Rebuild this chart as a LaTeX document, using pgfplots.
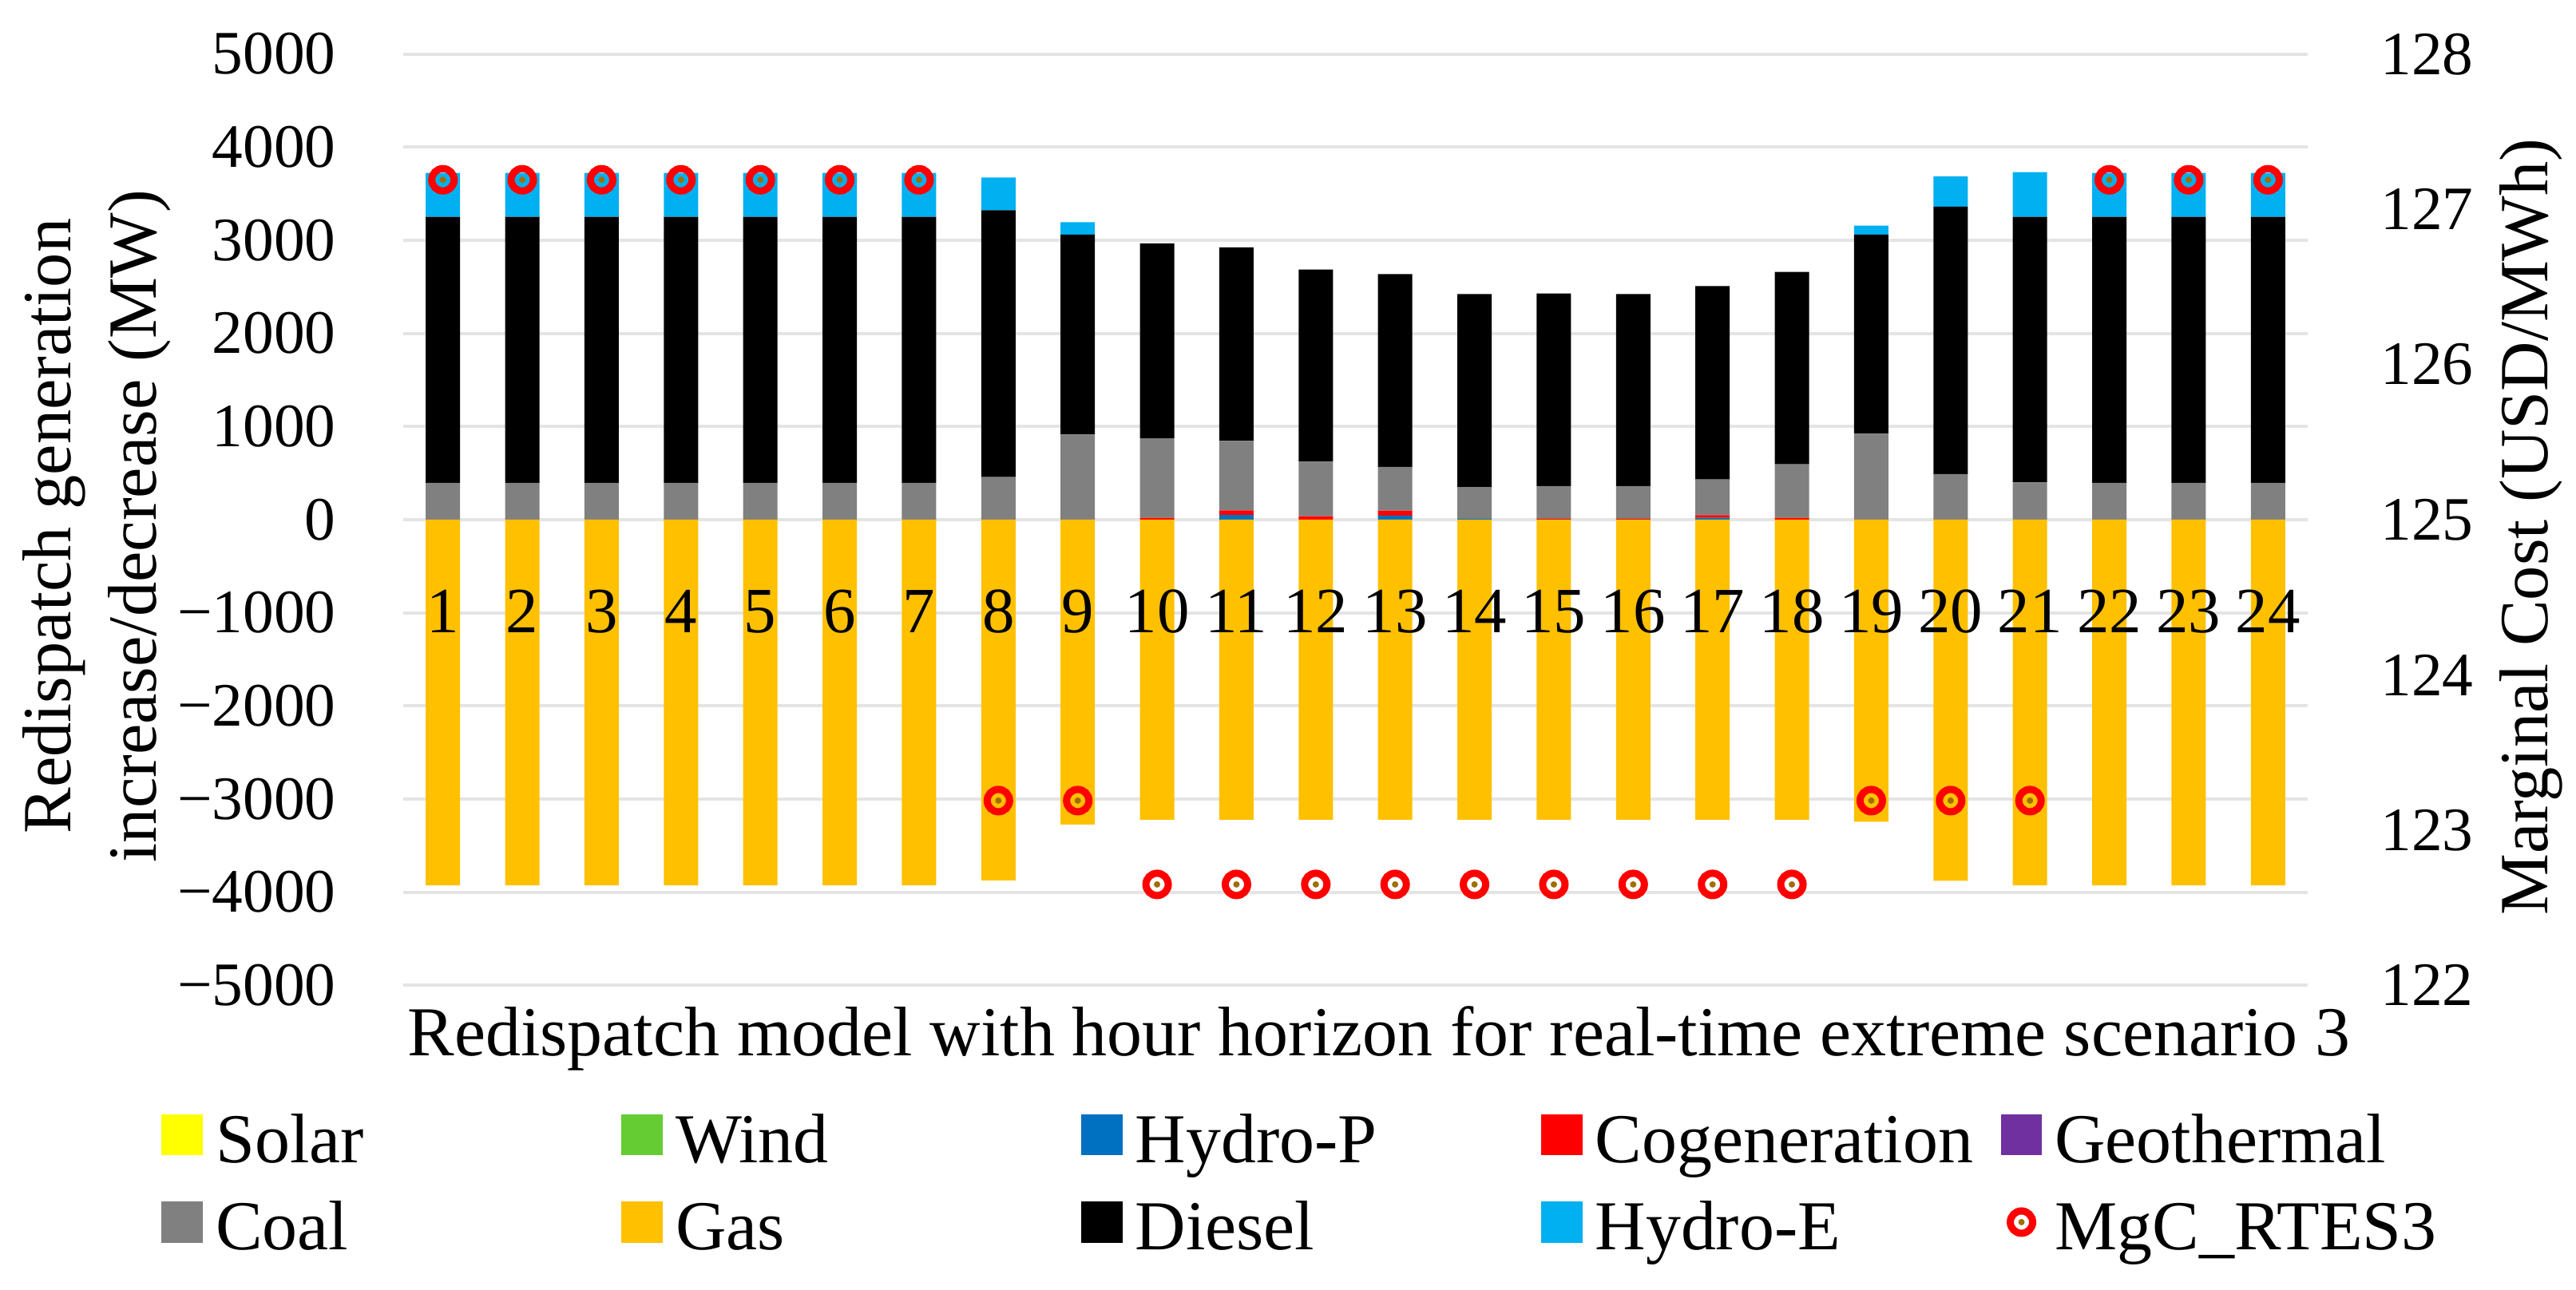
\documentclass[border=0pt]{standalone}
\usepackage{fontspec}
\setmainfont{Liberation Serif}
\usepackage{pgfplots}
\usepackage{pgfplotstable}
\pgfplotsset{compat=1.18}

\definecolor{solarc}{RGB}{255,255,0}
\definecolor{windc}{RGB}{102,204,51}
\definecolor{hydropc}{RGB}{0,112,192}
\definecolor{cogenc}{RGB}{255,0,0}
\definecolor{geoc}{RGB}{112,48,160}
\definecolor{coalc}{RGB}{128,128,128}
\definecolor{gasc}{RGB}{255,192,0}
\definecolor{dieselc}{RGB}{0,0,0}
\definecolor{hydroec}{RGB}{0,176,240}
\definecolor{gridc}{RGB}{228,228,228}
\definecolor{dotc}{RGB}{160,110,0}

\pgfdeclareplotmark{ringdot}{%
  \pgfsetlinewidth{0.045cm}%
  \pgfsetstrokecolor{red}%
  \pgfpathcircle{\pgfpointorigin}{0.07cm}%
  \pgfusepathqstroke
  \pgfsetfillcolor{dotc}%
  \pgfpathcircle{\pgfpointorigin}{0.02cm}%
  \pgfusepathqfill
}

\pgfplotstableread{
h gas hp cg coal diesel he mgc
1 -3926 0 0 395 2856 472 127.19
2 -3926 0 0 395 2856 472 127.19
3 -3926 0 0 395 2856 472 127.19
4 -3926 0 0 395 2856 472 127.19
5 -3926 0 0 395 2856 472 127.19
6 -3926 0 0 395 2856 472 127.19
7 -3926 0 0 395 2856 472 127.19
8 -3874 0 0 457 2866 351 123.19
9 -3274 0 0 914 2146 134 123.19
10 -3223 0 20 852 2094 0 122.65
11 -3223 50 50 746 2077 0 122.65
12 -3223 0 37 586 2063 0 122.65
13 -3223 43 54 469 2071 0 122.65
14 -3223 10 0 341 2072 0 122.65
15 -3223 0 10 350 2069 0 122.65
16 -3223 0 10 350 2063 0 122.65
17 -3223 20 29 382 2077 0 122.65
18 -3223 0 20 574 2066 0 122.65
19 -3243 0 0 923 2137 97 123.19
20 -3877 0 0 489 2871 326 123.19
21 -3926 0 0 400 2851 480 123.19
22 -3926 0 0 395 2856 472 127.19
23 -3926 0 0 395 2856 472 127.19
24 -3926 0 0 395 2856 472 127.19
}\data

\newcommand{\legsq}[1]{\fill[#1] (0cm,-0.1cm) rectangle (0.245cm,0.145cm);}

\begin{document}
\begin{tikzpicture}
\path[use as bounding box] (0,0) rectangle (16.13cm,8.075cm);

\begin{axis}[
  at={(2.525cm,1.9035cm)}, anchor=south west,
  width=11.925cm, height=5.833cm, scale only axis,
  xmin=0.5, xmax=24.5, ymin=-5000, ymax=5000,
  enlarge x limits=false,
  ybar stacked, bar width=0.215cm,
  axis x line*=middle, axis y line*=left,
  y axis line style={draw=none},
  x axis line style={draw=gridc, line width=0.6pt},
  xtick=\empty,
  minor xtick={0.5,1.5,...,24.5},
  tick align=center,
  major tick length=0pt,
  minor tick length=0.15cm,
  every minor tick/.append style={draw=gridc, line width=0.6pt, yshift=-0.075cm},
  ytick={-5000,-4000,...,5000},
  yticklabels={−5000,−4000,−3000,−2000,−1000,0,1000,2000,3000,4000,5000},
  ymajorgrids, grid style={draw=gridc, line width=0.6pt},
  yticklabel style={anchor=east, inner xsep=0pt, xshift=-0.415cm, font=\fontsize{11}{13}\selectfont},
  ylabel={Redispatch generation\\increase/decrease (MW)},
  ylabel style={align=center, inner sep=0pt, anchor=south, at={(axis description cs:-0.1215,0.4931)}, font=\fontsize{12.3}{15.2}\selectfont},
]
\addplot[fill=gasc, draw=none] table[x=h, y=gas] {\data};
\addplot[fill=hydropc, draw=none] table[x=h, y=hp] {\data};
\addplot[fill=cogenc, draw=none] table[x=h, y=cg] {\data};
\addplot[fill=coalc, draw=none] table[x=h, y=coal] {\data};
\addplot[fill=dieselc, draw=none] table[x=h, y=diesel] {\data};
\addplot[fill=hydroec, draw=none] table[x=h, y=he] {\data};
\end{axis}

\begin{axis}[
  at={(2.525cm,1.9035cm)}, anchor=south west,
  width=11.925cm, height=5.833cm, scale only axis,
  xmin=0.5, xmax=24.5, ymin=122, ymax=128,
  axis x line*=bottom, axis y line*=right,
  x axis line style={draw=none}, y axis line style={draw=none},
  major tick length=0pt,
  xtick={1,...,24},
  xticklabels={1,2,3,4,5,6,7,8,9,10,11,12,13,14,15,16,17,18,19,20,21,22,23,24},
  xticklabel style={anchor=base, yshift=2.2065cm, font=\fontsize{11.5}{13}\selectfont},
  ytick={122,123,124,125,126,127,128},
  yticklabels={122,123,124,125,126,127,128},
  yticklabel style={anchor=west, inner xsep=0pt, xshift=0.45cm, font=\fontsize{11}{13}\selectfont},
  ylabel={Marginal Cost (USD/MWh)},
  ylabel style={anchor=south, inner sep=0pt, at={(axis description cs:1.1342,0.4923)}, font=\fontsize{12.3}{14.4}\selectfont},
  xlabel={Redispatch model with hour horizon for real-time extreme scenario 3},
  xlabel style={anchor=base, at={(axis description cs:0.5124,-0.0755)}, font=\fontsize{12.5}{15}\selectfont},
  legend columns=5,
  legend cell align=left,
  legend style={draw=none, fill=none, inner sep=0pt, column sep=0pt, row sep=0.14cm,
    at={(-0.12746,-0.1283)}, anchor=north west,
    font=\fontsize{12.5}{14.4}\selectfont,
    nodes={inner xsep=0.08cm, inner ysep=0pt}},
]
\addlegendimage{legend image code/.code={\legsq{solarc}}}
\addlegendentry{\makebox[2.46cm][l]{\strut Solar}}
\addlegendimage{legend image code/.code={\legsq{windc}}}
\addlegendentry{\makebox[2.46cm][l]{\strut Wind}}
\addlegendimage{legend image code/.code={\legsq{hydropc}}}
\addlegendentry{\makebox[2.46cm][l]{\strut Hydro-P}}
\addlegendimage{legend image code/.code={\legsq{cogenc}}}
\addlegendentry{\makebox[2.46cm][l]{\strut Cogeneration}}
\addlegendimage{legend image code/.code={\legsq{geoc}}}
\addlegendentry{\makebox[2.46cm][l]{\strut Geothermal}}
\addlegendimage{legend image code/.code={\legsq{coalc}}}
\addlegendentry{\makebox[2.46cm][l]{\strut Coal}}
\addlegendimage{legend image code/.code={\legsq{gasc}}}
\addlegendentry{\makebox[2.46cm][l]{\strut Gas}}
\addlegendimage{legend image code/.code={\legsq{dieselc}}}
\addlegendentry{\makebox[2.46cm][l]{\strut Diesel}}
\addlegendimage{legend image code/.code={\legsq{hydroec}}}
\addlegendentry{\makebox[2.46cm][l]{\strut Hydro-E}}
\addplot[only marks, mark=ringdot,
  legend image code/.code={\begin{scope}[shift={(0.1225cm,0.0225cm)}]\pgfuseplotmark{ringdot}\end{scope}\path[draw=none,fill=none] (0cm,-0.1cm) rectangle (0.245cm,0.145cm);}]
  table[x=h, y=mgc] {\data};
\addlegendentry{\makebox[2.46cm][l]{\strut MgC\_RTES3}}
\end{axis}
\end{tikzpicture}
\end{document}
